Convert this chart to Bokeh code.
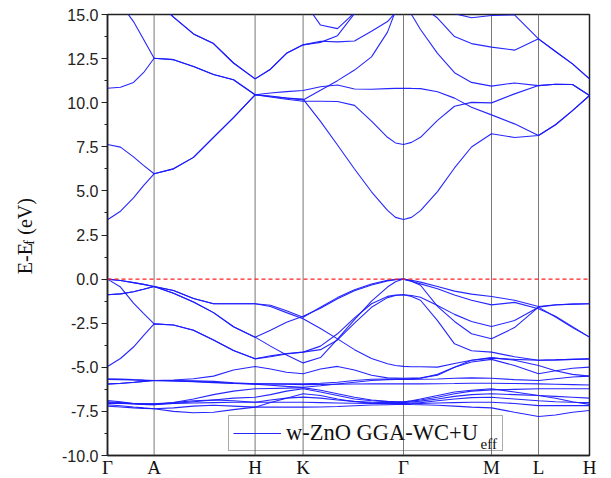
import math
from bokeh.plotting import figure
from bokeh.layouts import row
from bokeh.models import (Range1d, FixedTicker, SingleIntervalTicker, Span,
                          Legend, LegendItem, NumeralTickFormatter)
from bokeh.core.properties import value
from bokeh.embed import file_html
from bokeh.resources import INLINE

# k-path sample positions (arbitrary path-length units)
K_PATH = [0, 13, 26, 36, 46.6, 66, 86, 106, 126, 147.6, 163, 179, 195.6,
          213, 230, 247, 264, 280, 288, 296, 304, 313, 330, 347, 364, 384,
          407, 431, 448, 465, 482]
HS_K = [0, 46.6, 147.6, 195.6, 296, 384, 431, 482]
HS_LABELS = ["Γ", "A", "H", "K", "Γ", "M", "L", "H"]

# conduction bands (eV)
CB1 = [3.36, 3.85, 4.6, 5.3, 5.97, 6.25, 6.9, 8.03, 9.15, 10.45, 10.35, 10.26, 10.2,
       8.94, 7.6, 6.24, 4.95, 3.9, 3.5, 3.38, 3.5, 3.88, 4.96, 6.3, 7.49, 8.24,
       8.03, 8.14, 8.75, 9.55, 10.41]
CB2 = [7.63, 7.48, 6.93, 6.45, 5.97, 6.25, 6.9, 8.03, 9.15, 10.45, 10.32, 10.2, 10.08,
       10.08, 10.07, 9.85, 8.95, 8.04, 7.72, 7.63, 7.75, 8.04, 9.0, 9.8, 10.02, 9.99,
       10.5, 10.97, 11.05, 11.03, 10.41]
CB3 = [10.82, 10.88, 11.15, 11.7, 12.52, 12.44, 12.05, 11.6, 11.3, 10.45, 10.55, 10.63, 10.69,
       10.9, 11.0, 10.78, 10.76, 10.8, 10.81, 10.82, 10.81, 10.8, 10.62, 10.26, 9.74, 9.31,
       8.8, 8.14, 8.75, 9.55, 10.41]
CB4 = [16.3, 15.6, 14.6, 13.6, 12.52, 12.44, 12.05, 11.6, 11.3, 10.45, 10.38, 10.27, 10.15,
       10.7, 11.25, 11.85, 12.6, 14.0, 15.2, 15.8, 15.0, 14.15, 12.8, 11.7, 11.15, 10.94,
       11.12, 10.97, 11.05, 11.03, 10.41]
CB5 = [17.5, 17.3, 16.9, 16.4, 15.9, 14.85, 13.9, 13.35, 12.25, 11.35, 11.9, 12.8, 13.28,
       13.42, 13.8, 15.05, 16.0, 16.8, 17.2, 17.5, 17.3, 17.0, 16.5, 16.0, 15.7, 15.5,
       15.7, 15.9, 16.0, 16.1, 16.2]
CB6 = [17.5, 17.3, 16.9, 16.4, 15.9, 14.85, 13.9, 13.35, 12.25, 11.35, 11.9, 12.8, 13.28,
       13.48, 13.45, 13.5, 14.05, 14.6, 15.1, 15.8, 15.7, 15.5, 14.8, 13.75, 13.35, 13.15,
       12.98, 13.62, 12.9, 12.2, 11.35]
CB7 = [19, 19, 19, 19, 19, 18.5, 18, 17.5, 17, 16.8, 16.5, 16.2, 15.8,
       14.4, 14.2, 15.1, 16.0, 16.5, 16.8, 17.0, 17.0, 17.0, 16.8, 16.4, 16.0, 15.6,
       15.4, 15.9, 16.2, 16.4, 16.5]
CB8 = [19, 19, 19, 19, 19, 19, 19, 19, 19, 19, 19, 19, 19,
       19, 19, 19, 18.5, 18, 17.5, 17, 16.2, 15.8, 15.4, 15.05, 14.82, 14.94,
       14.98, 13.62, 12.9, 12.2, 11.35]

# O-2p valence bands (eV)
VB1 = [0, -0.08, -0.2, -0.3, -0.42, -0.65, -1.1, -1.4, -1.4, -1.4, -1.48, -1.8, -2.16,
       -1.6, -1.05, -0.6, -0.28, -0.07, -0.02, 0, -0.07, -0.17, -0.42, -0.68, -0.85, -0.99,
       -1.2, -1.55, -1.45, -1.42, -1.4]
VB2 = [0, -0.08, -0.2, -0.3, -0.42, -0.8, -1.3, -1.9, -2.7, -3.29, -2.9, -2.45, -2.1,
       -1.65, -1.12, -0.66, -0.33, -0.1, -0.03, 0, -0.12, -0.27, -0.55, -0.9, -1.2, -1.46,
       -1.32, -1.68, -2.1, -2.7, -3.29]
VB3 = [0, -0.45, -1.36, -1.94, -2.54, -2.6, -2.9, -3.45, -4.05, -4.52, -4.35, -4.22, -4.14,
       -3.8, -3.1, -2.2, -1.4, -0.98, -0.9, -0.89, -0.93, -1.03, -1.5, -2.0, -2.4, -2.69,
       -2.35, -1.59, -2.15, -2.75, -3.29]
VB4 = [-0.89, -0.84, -0.72, -0.58, -0.42, -0.65, -1.1, -1.4, -1.4, -1.4, -1.55, -1.9, -2.25,
       -2.8, -3.39, -4.0, -4.5, -4.8, -4.9, -4.95, -4.97, -4.97, -4.99, -4.78, -4.6, -4.48,
       -4.55, -4.6, -4.58, -4.55, -4.52]
VB5 = [-0.89, -0.84, -0.72, -0.58, -0.42, -0.8, -1.3, -1.9, -2.7, -3.29, -3.8, -4.3, -4.75,
       -4.45, -3.4, -2.3, -1.25, -0.45, -0.15, 0, -0.12, -0.35, -1.55, -2.4, -3.1, -3.38,
       -2.75, -1.59, -1.47, -1.42, -1.4]
VB6 = [-4.95, -4.5, -3.85, -3.2, -2.54, -2.6, -2.9, -3.45, -4.05, -4.52, -4.4, -4.25, -4.14,
       -4.0, -3.45, -2.5, -1.6, -1.05, -0.93, -0.89, -0.98, -1.2, -2.35, -3.67, -4.06, -4.14,
       -4.4, -4.6, -4.58, -4.55, -4.52]

# Zn-3d bands (eV)
D1 = [-5.65, -5.67, -5.7, -5.72, -5.75, -5.72, -5.65, -5.5, -5.15, -4.95, -5.1, -5.28, -5.37,
      -5.1, -4.95, -5.15, -5.45, -5.6, -5.61, -5.62, -5.61, -5.6, -5.45, -5.0, -4.7, -4.55,
      -4.9, -5.37, -5.2, -5.05, -4.99]
D2 = [-5.94, -5.9, -5.85, -5.8, -5.75, -5.78, -5.82, -5.87, -5.92, -5.94, -5.95, -5.96, -5.98,
      -5.97, -5.96, -5.95, -5.94, -5.94, -5.94, -5.94, -5.94, -5.94, -5.93, -5.92, -5.9, -5.9,
      -5.92, -5.94, -5.96, -5.98, -6.0]
D3 = [-5.69, -5.7, -5.72, -5.74, -5.75, -5.78, -5.8, -5.85, -5.9, -5.96, -6.02, -6.08, -6.13,
      -6.05, -5.95, -5.85, -5.75, -5.7, -5.69, -5.69, -5.69, -5.68, -5.66, -5.62, -5.6, -5.62,
      -5.7, -5.75, -5.65, -5.55, -5.5]
D4 = [-5.96, -5.92, -5.86, -5.8, -5.75, -5.75, -5.76, -5.8, -5.88, -5.94, -5.94, -5.94, -5.94,
      -5.9, -5.85, -5.75, -5.68, -5.66, -5.65, -5.65, -5.64, -5.62, -5.4, -5.0, -4.6, -4.45,
      -4.6, -4.9, -5.2, -5.4, -5.5]
D5 = [-6.88, -6.95, -7.05, -7.1, -7.12, -7.0, -6.8, -6.55, -6.35, -6.22, -6.2, -6.18, -6.15,
      -6.3, -6.5, -6.7, -6.85, -6.93, -6.95, -6.95, -6.92, -6.85, -6.7, -6.5, -6.35, -6.28,
      -6.25, -6.22, -6.22, -6.22, -6.22]
D6 = [-6.95, -7.0, -7.05, -7.07, -7.07, -7.0, -6.9, -6.85, -6.9, -6.98, -6.85, -6.75, -6.69,
      -6.75, -6.85, -6.93, -6.98, -7.0, -7.0, -7.0, -6.97, -6.92, -6.8, -6.65, -6.55, -6.5,
      -6.55, -6.6, -6.65, -6.7, -6.75]
D7 = [-7.05, -7.05, -7.06, -7.07, -7.07, -7.05, -7.02, -7.0, -6.98, -6.98, -6.98, -6.98, -6.98,
      -7.0, -7.02, -7.04, -7.05, -7.05, -7.05, -7.05, -7.03, -7.0, -6.9, -6.8, -6.72, -6.7,
      -6.8, -6.9, -6.95, -6.98, -7.0]
D8 = [-7.12, -7.18, -7.25, -7.3, -7.35, -7.5, -7.58, -7.55, -7.4, -7.26, -7.26, -7.26, -7.26,
      -7.25, -7.22, -7.18, -7.14, -7.12, -7.11, -7.1, -7.11, -7.12, -7.15, -7.2, -7.26, -7.3,
      -7.55, -7.79, -7.7, -7.55, -7.45]
D9 = [-7.2, -7.25, -7.3, -7.33, -7.35, -7.3, -7.2, -7.15, -7.2, -7.26, -7.0, -6.75, -6.5,
      -6.6, -6.8, -6.95, -7.03, -7.07, -7.08, -7.08, -7.07, -7.05, -7.02, -7.0, -6.98, -6.98,
      -7.05, -7.17, -7.17, -7.17, -7.17]
D10 = [-7.0, -7.03, -7.08, -7.1, -7.12, -7.05, -6.95, -6.85, -6.75, -6.7, -6.55, -6.35, -6.22,
       -6.4, -6.6, -6.8, -6.9, -6.95, -6.96, -6.97, -6.9, -6.8, -6.6, -6.4, -6.3, -6.22,
       -6.4, -6.6, -6.75, -6.95, -7.1]

BANDS = [CB1, CB2, CB3, CB4, CB5, CB6, CB7, CB8,
         VB1, VB2, VB3, VB4, VB5, VB6,
         D1, D2, D3, D4, D5, D6, D7, D8, D9, D10]

E_MIN, E_MAX = -10.0, 15.0
Y_TITLE = ["E-E", "f", "(eV)"]
LEGEND_LABEL = "w-ZnO GGA-WC+U"
LEGEND_SUB = "eff"

FW, FH = 482, 441
TOP, BOTTOM = 14, 18
TITLE_W = 40
TOTAL_H = TOP + FH + BOTTOM
PX_E = (E_MAX - E_MIN) / FH          # eV per pixel (vertical)
PX_K = (HS_K[-1] - HS_K[0]) / FW     # k units per pixel (horizontal)

# ---- narrow strip carrying the rotated y-axis title ----
t = figure(width=TITLE_W, height=TOTAL_H, x_range=Range1d(0, TITLE_W),
           y_range=Range1d(0, TOTAL_H), output_backend="svg", toolbar_location=None,
           x_axis_type=None, y_axis_type=None, min_border=0)
t.xgrid.visible = False
t.ygrid.visible = False
t.outline_line_color = None
t.background_fill_color = "white"
t.border_fill_color = "white"
t.text(x=[24], y=[TOTAL_H - 283], text=[Y_TITLE[0]], angle=math.pi / 2,
       text_align="left", text_baseline="middle", text_font=value("Liberation Serif"),
       text_font_size="20px", text_color="#111111")
t.text(x=[29], y=[TOTAL_H - 251], text=[Y_TITLE[1]], angle=math.pi / 2,
       text_align="left", text_baseline="middle", text_font=value("Liberation Serif"),
       text_font_size="14px", text_color="#111111")
t.text(x=[24], y=[TOTAL_H - 240], text=[Y_TITLE[2]], angle=math.pi / 2,
       text_align="left", text_baseline="middle", text_font=value("Liberation Serif"),
       text_font_size="20px", text_color="#111111")

# ---- main band-structure plot ----
p = figure(frame_width=FW, frame_height=FH,
           x_range=Range1d(HS_K[0], HS_K[-1]), y_range=Range1d(E_MIN, E_MAX),
           output_backend="svg", toolbar_location=None,
           min_border_left=107 - TITLE_W, min_border_right=14,
           min_border_top=TOP, min_border_bottom=BOTTOM)
p.background_fill_color = "white"
p.border_fill_color = "white"
p.xgrid.visible = False
p.ygrid.visible = False
p.outline_line_color = "#222222"
p.outline_line_width = 1.5

for k in HS_K[1:-1]:
    p.add_layout(Span(location=k, dimension="height", line_color="#7a7a7a",
                      line_width=1, level="underlay"))

p.add_layout(Span(location=0, dimension="width", line_color="#ff2020",
                  line_dash="4 3", line_width=1.2))

r = p.multi_line(xs=[K_PATH] * len(BANDS), ys=BANDS, line_color="#1a1aff",
                 line_width=1.1, line_alpha=0.95)

xa = p.xaxis[0]
xa.ticker = FixedTicker(ticks=HS_K)
xa.major_label_overrides = {float(k): lab for k, lab in zip(HS_K, HS_LABELS)}
xa.major_tick_out = 0
xa.major_tick_in = 0
xa.minor_tick_out = 0
xa.major_label_standoff = 1
xa.major_label_text_font = "Liberation Serif"
xa.major_label_text_font_size = "19px"
xa.major_label_text_color = "#111111"
xa.axis_line_color = "#222222"
xa.axis_line_width = 1.5

ya = p.yaxis[0]
ya.ticker = SingleIntervalTicker(interval=2.5, num_minor_ticks=2)
ya.formatter = NumeralTickFormatter(format="0.0")
ya.major_tick_out = 6
ya.major_tick_in = 0
ya.minor_tick_out = 3
ya.minor_tick_in = 0
ya.major_tick_line_color = "#222222"
ya.minor_tick_line_color = "#222222"
ya.major_label_standoff = 3
ya.major_label_text_font = "Liberation Sans"
ya.major_label_text_font_size = "16px"
ya.major_label_text_color = "#222222"
ya.axis_line_color = "#222222"
ya.axis_line_width = 1.5

# legend box is transparent so the glyph-level subscript below shows through it
legend = Legend(items=[LegendItem(label=LEGEND_LABEL, renderers=[r])],
                location=(121, 4), padding=4, spacing=0, margin=0,
                glyph_width=48, glyph_height=20, label_standoff=5, label_width=212,
                label_text_font="Liberation Serif", label_text_font_size="22.5px",
                label_text_color="#111111",
                border_line_color="#555555", border_line_width=1,
                background_fill_alpha=0)
p.add_layout(legend)
# subscript of the legend label, just after "U"
p.text(x=[HS_K[0] + (480 - 107) * PX_K], y=[E_MIN + (455 - 443) * PX_E], text=[LEGEND_SUB],
       text_align="left", text_baseline="alphabetic",
       text_font=value("Liberation Serif"), text_font_size="15px", text_color="#111111")

layout = row(t, p, spacing=0)
open("out.html", "w").write(file_html(layout, INLINE))
